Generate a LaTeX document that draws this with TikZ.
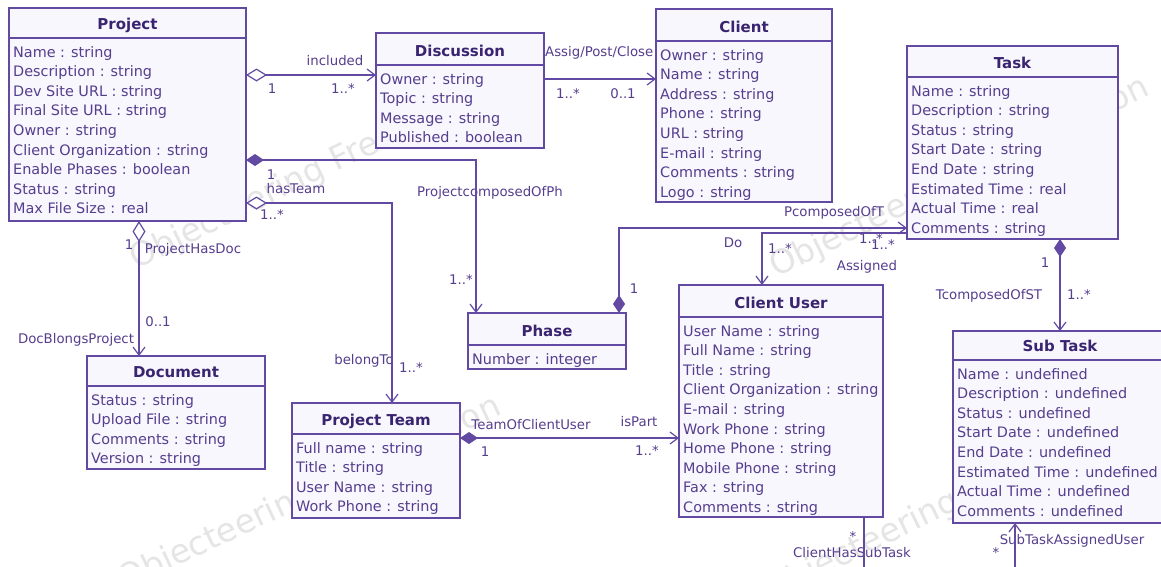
\documentclass[tikz,border=0pt]{standalone}
\usepackage{fontspec}
\setmainfont{DejaVu Sans}
\usetikzlibrary{arrows.meta}
\definecolor{uml}{RGB}{98,74,162}
\definecolor{umltext}{RGB}{86,62,142}
\definecolor{umltitle}{RGB}{58,36,112}
\definecolor{umlfill}{RGB}{247,247,253}
\tikzset{
  cls/.style={draw=uml, fill=umlfill, line width=1.2pt, inner sep=0pt, outer sep=0pt, anchor=north west},
  sepline/.style={draw=uml, line width=1.2pt},
  ctitle/.style={font=\fontsize{15}{17}\selectfont\bfseries, text=umltitle, anchor=base, inner sep=0pt},
  attr/.style={font=\fontsize{14.4}{16}\selectfont, text=umltext, anchor=base west, inner sep=0pt},
  lbl/.style={font=\fontsize{13.3}{15}\selectfont, text=umltext, inner sep=0pt, text height=9.5pt, text depth=2.5pt},
  wm/.style={font=\fontsize{33}{36}\selectfont, text=black!10, inner sep=0pt},
  conn/.style={draw=uml, line width=1.2pt},
  nav/.style={-{Straight Barb[length=8pt,width=12pt]}},
  aggrnav/.style={{Diamond[length=21pt,width=13pt,fill=white]}-{Straight Barb[length=8pt,width=12pt]}},
  compnav/.style={{Diamond[length=18pt,width=12pt]}-{Straight Barb[length=8pt,width=12pt]}},
}
\newcommand\umlclass[8]{%
  \node[cls, minimum width={#4-#2}, minimum height={#5-#3}] (#1) at (#2,#3) {};
  \draw[sepline] (#1.west |- 0,#6) -- (#1.east |- 0,#6);
  \node[ctitle] (#1-title) at ({(#2+#4)/2},{#6-9}) {#7};
  \foreach \a [count=\i] in {#8} {
    \node[attr] (#1-a\i) at ({#2+4},{#6+19+(\i-1)*19.6}) {\a};
  }
}
\begin{document}
\begin{tikzpicture}[x=1pt,y=-1pt]
\useasboundingbox (0,0) rectangle (1161,566);
\fill[white] (0,0) rectangle (1161,566);

% watermark
\node[wm, rotate=26] (wm1) at (320,170) {Objecteering Free Edition};
\node[wm, rotate=26] (wm2) at (960,178) {Objecteering Free Edition};
\node[wm, rotate=25] (wm3) at (310,494) {Objecteering Free Edition};
\node[wm, rotate=26] (wm4) at (954,502) {Objecteering Free Edition};

% connector labels
\node[lbl] (l-incl) at (335,62) {included};
\node[lbl] (l-incl1) at (272,90) {1};
\node[lbl] (l-incl2) at (343,90) {1..*};
\node[lbl, anchor=west] (l-assig) at (545,53) {Assig/Post/Close};
\node[lbl] (l-assig1) at (568,95) {1..*};
\node[lbl] (l-assig2) at (623,95) {0..1};
\node[lbl] (l-pcph) at (490,193) {ProjectcomposedOfPh};
\node[lbl] (l-pcph1) at (271,176) {1};
\node[lbl] (l-pcph2) at (461,281) {1..*};
\node[lbl] (l-hast) at (296,190) {hasTeam};
\node[lbl] (l-hast1) at (272,216) {1..*};
\node[lbl] (l-belong) at (364,361) {belongTo};
\node[lbl] (l-hast2) at (411,369) {1..*};
\node[lbl] (l-doc1) at (129,246) {1};
\node[lbl] (l-phd) at (193,250) {ProjectHasDoc};
\node[lbl] (l-doc2) at (158,323) {0..1};
\node[lbl] (l-dbp) at (76,340) {DocBlongsProject};
\node[lbl] (l-pcot) at (834,213) {PcomposedOfT};
\node[lbl] (l-pcot1) at (634,290) {1};
\node[lbl] (l-pcot2) at (871,240) {1..*};
\node[lbl] (l-do) at (733,244) {Do};
\node[lbl] (l-do1) at (780,250) {1..*};
\node[lbl] (l-asg) at (867,267) {Assigned};
\node[lbl] (l-asg1) at (883,246) {1..*};
\node[lbl] (l-tocu) at (531,426) {TeamOfClientUser};
\node[lbl] (l-ispart) at (639,423) {isPart};
\node[lbl] (l-tocu1) at (485,453) {1};
\node[lbl] (l-tocu2) at (647,452) {1..*};
\node[lbl] (l-tcst) at (989,296) {TcomposedOfST};
\node[lbl] (l-tcst1) at (1045,264) {1};
\node[lbl] (l-tcst2) at (1079,296) {1..*};
\node[lbl] (l-chst) at (852,554) {ClientHasSubTask};
\node[lbl] (l-chst1) at (853,538) {*};
\node[lbl] (l-stau) at (1072,541) {SubTaskAssignedUser};
\node[lbl] (l-stau1) at (996,554) {*};

% classes
\umlclass{project}{9}{8}{246}{221}{38}{Project}{Name : string, Description : string, Dev Site URL : string, Final Site URL : string, Owner : string, Client Organization : string, Enable Phases : boolean, Status : string, Max File Size : real}
\umlclass{discussion}{376}{33}{544}{148}{65}{Discussion}{Owner : string, Topic : string, Message : string, Published : boolean}
\umlclass{client}{656}{9}{832}{202}{41}{Client}{Owner : string, Name : string, Address : string, Phone : string, URL : string, E-mail : string, Comments : string, Logo : string}
\umlclass{task}{907}{46}{1118}{239}{77}{Task}{Name : string, Description : string, Status : string, Start Date : string, End Date : string, Estimated Time : real, Actual Time : real, Comments : string}
\umlclass{document}{87}{356}{265}{469}{386}{Document}{Status : string, Upload File : string, Comments : string, Version : string}
\umlclass{phase}{468}{313}{626}{369}{345}{Phase}{Number : integer}
\umlclass{team}{292}{403}{460}{518}{434}{Project Team}{Full name : string, Title : string, User Name : string, Work Phone : string}
\umlclass{clientuser}{679}{285}{883}{517}{317}{Client User}{User Name : string, Full Name : string, Title : string, Client Organization : string, E-mail : string, Work Phone : string, Home Phone : string, Mobile Phone : string, Fax : string, Comments : string}
\umlclass{subtask}{953}{331}{1167}{523}{360}{Sub Task}{Name : undefined, Description : undefined, Status : undefined, Start Date : undefined, End Date : undefined, Estimated Time : undefined, Actual Time : undefined, Comments : undefined}

\coordinate (chst) at (864,580);
\coordinate (stau) at (1015,580);

% connectors
\draw[conn, aggrnav] (project.east |- 0,75) -- (discussion.west |- 0,75);
\draw[conn, nav] (discussion.east |- 0,79) -- (client.west |- 0,79);
\draw[conn, compnav] (project.east |- 0,160) -| (phase.north -| 476,0);
\draw[conn, aggrnav] (project.east |- 0,203) -| (team.north -| 392,0);
\draw[conn, aggrnav] (project.south -| 139,0) -- (document.north -| 139,0);
\draw[conn, compnav] (phase.north -| 619,0) |- (task.west |- 0,228);
\draw[conn, nav] (task.west |- 0,233) -| (clientuser.north -| 762,0);
\draw[conn, compnav] (team.east |- 0,438) -- (clientuser.west |- 0,438);
\draw[conn, compnav] (task.south -| 1060,0) -- (subtask.north -| 1060,0);
\draw[conn] (clientuser.south -| 864,0) -- (chst);
\draw[conn, nav] (stau) -- (subtask.south -| 1015,0);
\end{tikzpicture}
\end{document}
